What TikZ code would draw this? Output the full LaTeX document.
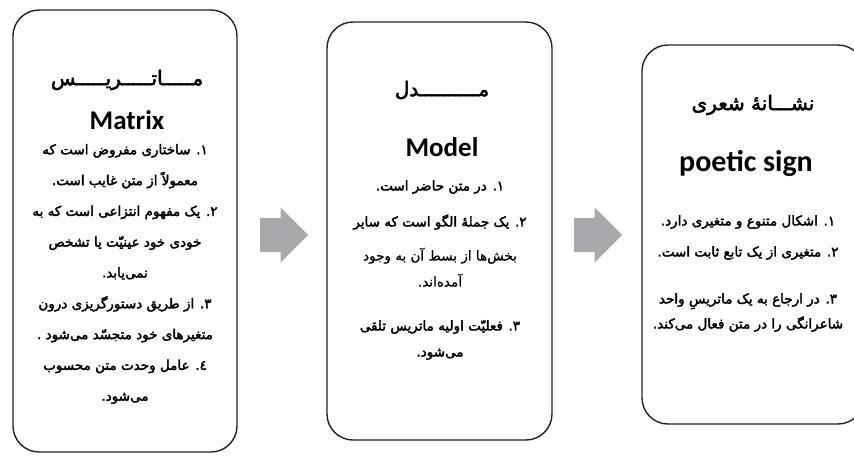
\documentclass[tikz,border=0pt]{standalone}
\usepackage{fontspec}
\usetikzlibrary{shapes.arrows}
\usetikzlibrary{positioning}
\setmainfont{Carlito}
\newfontfamily\farsi[Script=Arabic,FakeBold=2.5]{DejaVu Sans}
\newfontfamily\farsilight[Script=Arabic,FakeBold=0.8]{DejaVu Sans}
\TeXXeTstate=1
\newcommand{\fa}[1]{{\farsi\beginR #1\endR}}
\newcommand{\fal}[1]{{\farsilight\beginR #1\endR}}
\definecolor{arrowgray}{HTML}{A7A9AC}
\definecolor{framegray}{HTML}{222222}

\begin{document}
\begin{tikzpicture}[x=1pt,y=-1pt,
	panel/.style={rectangle,draw=framegray,line width=1.4pt,rounded corners=26pt,fill=white},
	heading/.style={inner sep=0pt,font=\fontsize{20}{24}\selectfont},
	latin/.style={inner sep=0pt,font=\fontsize{27}{30}\selectfont\bfseries},
	body/.style={inner sep=0pt,align=center,font=\fontsize{13.5}{#1}\selectfont},
	flow/.style={single arrow,fill=arrowgray,anchor=tail,inner xsep=0pt,inner ysep=17pt,
		minimum width=0pt,minimum height=48pt,single arrow head extend=10.5pt}]
	\useasboundingbox (0,0) rectangle (854,456);
	% boxes
	\node [panel,minimum width=224pt,minimum height=442pt] (matrix) at (125,231) {};
	\node [panel,minimum width=225pt,minimum height=418pt] (model) at (439.5,231) {};
	\node [panel,minimum width=222pt,minimum height=379pt] (sign) at (753,234.5) {};
	% arrows between the boxes
	\node [flow] (matrixtomodel) at (260,235) {};
	\node [flow] (modeltosign) at (574,235) {};
	% matrix
	\node [heading] (matrixfa) at (127,80) {\fa{مـــــاتـــــریـــــس}};
	\node [latin] (matrixen) at (127,120) {Matrix};
	\node [body=30.8pt] (matrixtext) at (125,274) {
		\fa{۱. ساختاری مفروض است که}\\
		\fa{معمولاً از متن غایب است.}\\
		\fa{۲. یک مفهوم انتزاعی است که به}\\
		\fa{خودی خود عینیّت یا تشخص}\\
		\fa{نمی‌یابد.}\\
		\fa{۳. از طریق دستورگریزی درون}\\
		\fa{متغیرهای خود متجسّد می‌شود .}\\
		\fa{٤. عامل وحدت متن محسوب}\\
		\fa{می‌شود.}
	};
	% model
	\node [heading] (modelfa) at (442,90) {\fa{مــــــــــدل}};
	\node [latin] (modelen) at (442,147) {Model};
	\node [body=26pt] (modeltext) at (440,270) {
		\fa{۱. در متن حاضر است.}\\[10pt]
		\fa{۲. یک جملهٔ الگو است که سایر}\\[8pt]
		\fal{بخش‌ها از بسط آن به وجود}\\
		\fal{آمده‌اند.}\\[18pt]
		\fa{۳. فعلیّت اولیه ماتریس تلقی}\\
		\fa{می‌شود.}
	};
	% poetic sign
	\node [heading] (signfa) at (753,105) {\fa{نشـــانهٔ شعری}};
	\node [latin,font=\fontsize{30}{33}\selectfont\bfseries] (signen) at (746,163) {poetic sign};
	\node [body=25pt] (signtext) at (748,273.5) {
		\fa{۱. اشکال متنوع و متغیری دارد.}\\[6pt]
		\fa{۲. متغیری از یک تابع ثابت است.}\\[22pt]
		\fa{۳. در ارجاع به یک ماتریسِ واحد}\\
		\fa{شاعرانگی را در متن فعال می‌کند.}
	};
\end{tikzpicture}
\end{document}
